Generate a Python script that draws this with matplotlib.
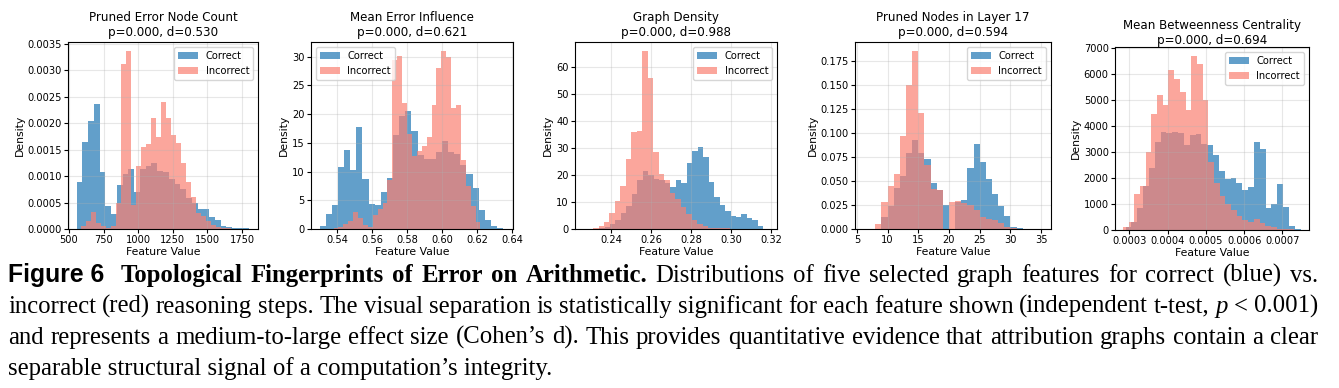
import numpy as np
import matplotlib.pyplot as plt
from matplotlib.ticker import MultipleLocator

W, H = 1339, 388

titles = ['Pruned Error Node Count', 'Mean Error Influence', 'Graph Density',
          'Pruned Nodes in Layer 17', 'Mean Betweenness Centrality']
p_vals = [0.000, 0.000, 0.000, 0.000, 0.000]
d_vals = [0.530, 0.621, 0.988, 0.594, 0.694]

# histogram densities: (lo, hi) of the bins, then one value per bin
node_count_correct_range = (556, 1803)
node_count_correct = [0.00089, 0.00165, 0.00205, 0.00236, 0.00108, 0.00044, 0.00029, 0.00083,
                      0.00105, 0.00114, 0.00070, 0.00114, 0.00120, 0.00125, 0.00110, 0.00107,
                      0.00095, 0.00085, 0.00075, 0.00058, 0.00050, 0.00038, 0.00038, 0.00022,
                      0.00017, 0.00006, 0.00004, 0.00002, 0.00001, 0.00001]
node_count_incorrect_range = (590, 1670)
node_count_incorrect = [0.00005, 0.00015, 0.00033, 0.00012, 0.00005, 0.00002, 0.00005, 0.00050,
                        0.00313, 0.00337, 0.00045, 0.00120, 0.00156, 0.00160, 0.00210, 0.00175,
                        0.00240, 0.00210, 0.00178, 0.00163, 0.00125, 0.00088, 0.00060, 0.00030,
                        0.00025, 0.00015, 0.00008, 0.00004, 0.00002, 0.00001]

influence_correct_range = (0.530, 0.635)
influence_correct = [0.46, 2.6, 4.2, 10.8, 13.8, 10.2, 17.7, 8.7, 4.4, 4.2, 6.5, 8.8, 16.4, 19.6, 20.5,
                     17.0, 12.8, 12.1, 12.2, 13.4, 15.4, 13.4, 13.0, 11.1, 9.5, 7.1, 3.3, 1.5, 0.6, 0.1]
influence_incorrect_range = (0.538, 0.622)
influence_incorrect = [0.2, 0.3, 0.8, 1.4, 2.9, 2.0, 0.7, 0.4, 2.5, 3.5, 4.5, 8.5, 29.5, 30.2, 22.0,
                       16.5, 12.7, 13.5, 14.5, 16.0, 21.5, 28.0, 31.0, 30.0, 21.0, 21.5, 12.0, 7.5, 4.0, 1.2]

density_correct_range = (0.234, 0.316)
density_correct = [0.3, 0.8, 2.0, 3.3, 6.0, 8.5, 13.0, 18.0, 21.5, 20.0, 18.5, 18.0, 17.0, 15.5, 18.0,
                   17.0, 24.5, 29.0, 30.5, 26.5, 17.5, 12.0, 9.0, 6.5, 5.0, 4.5, 5.5, 4.0, 3.3, 1.0]
density_incorrect_range = (0.231, 0.313)
density_incorrect = [0.3, 1.2, 2.5, 6.0, 10.5, 16.0, 26.0, 36.0, 36.5, 66.0, 56.0, 28.5, 20.5, 18.3, 13.5,
                     11.0, 8.0, 5.5, 3.5, 2.0, 1.0, 0.5, 0.3, 0.2, 0.2, 0.1, 0.1, 0.05, 0.05, 0.05]

layer17_correct_range = (9, 33)
layer17_correct = [0.012, 0.024, 0.043, 0.055, 0.079, 0.092, 0.079, 0.073, 0.048, 0.040, 0.025, 0.0,
                   0.028, 0.030, 0.063, 0.088, 0.070, 0.052, 0.036, 0.024, 0.013, 0.002, 0.001, 0.0005]
layer17_incorrect_range = (8, 33)
layer17_incorrect = [0.005, 0.028, 0.045, 0.057, 0.097, 0.150, 0.185, 0.120, 0.066, 0.042, 0.040, 0.0,
                     0.028, 0.029, 0.027, 0.025, 0.020, 0.012, 0.010, 0.009, 0.006, 0.002, 0.001,
                     0.0005, 0.0003]

betweenness_correct_range = (0.000290, 0.000748)
betweenness_correct = [100, 300, 850, 1700, 2400, 3400, 3750, 3720, 3750, 3720, 3250, 3650, 3700, 3300,
                       3250, 2900, 2250, 1950, 2000, 1800, 1550, 1650, 3400, 3100, 850, 1000, 1750,
                       900, 150, 50]
betweenness_incorrect_range = (0.000283, 0.000730)
betweenness_incorrect = [100, 300, 1400, 1700, 3000, 4450, 5200, 4800, 6150, 5800, 5300, 4600, 6700, 6400,
                         5000, 2600, 1800, 1300, 1000, 750, 550, 380, 300, 420, 280, 150, 100, 50, 30, 20]

panels = [
    (node_count_correct_range, node_count_correct, node_count_incorrect_range, node_count_incorrect),
    (influence_correct_range, influence_correct, influence_incorrect_range, influence_incorrect),
    (density_correct_range, density_correct, density_incorrect_range, density_incorrect),
    (layer17_correct_range, layer17_correct, layer17_incorrect_range, layer17_incorrect),
    (betweenness_correct_range, betweenness_correct, betweenness_incorrect_range, betweenness_incorrect),
]

# axes boxes in pixels (left, top, right, bottom) and x limits
boxes = [(68, 42, 258, 229), (311, 42, 513, 229), (575, 42, 777, 229),
         (855, 42, 1051, 229), (1115, 47, 1309, 230)]
xlims = [(493, 1866), (0.5251, 0.6406), (0.222, 0.3228), (4.7, 36.6), (0.0002625, 0.0007698)]
legend_locs = ['upper right', 'upper left', 'upper right', 'upper right', 'upper right']
title_pads = [4, 4, 4, 4, 2]

fig = plt.figure(figsize=(W / 100, H / 100), dpi=100)

for i, (cr, cv, ir, iv) in enumerate(panels):
    l, t, r, b = boxes[i]
    ax = fig.add_axes([l / W, 1 - b / H, (r - l) / W, (b - t) / H])
    c_edges = np.linspace(cr[0], cr[1], len(cv) + 1)
    i_edges = np.linspace(ir[0], ir[1], len(iv) + 1)
    ax.hist(c_edges[:-1], bins=c_edges, weights=cv, color='#1f77b4', alpha=0.7, label='Correct')
    ax.hist(i_edges[:-1], bins=i_edges, weights=iv, color='salmon', alpha=0.7, label='Incorrect')
    ax.set_xlim(*xlims[i])
    if i == 3:
        ax.xaxis.set_major_locator(MultipleLocator(5))
    ax.set_title(f'{titles[i]}\np={p_vals[i]:.3f}, d={d_vals[i]:.3f}', fontsize=8.6, pad=title_pads[i])
    ax.set_xlabel('Feature Value', fontsize=7.8, labelpad=1)
    ax.set_ylabel('Density', fontsize=7.8, labelpad=2)
    ax.tick_params(labelsize=7.1, length=3, pad=1.5)
    ax.grid(alpha=0.3)
    ax.legend(loc=legend_locs[i], fontsize=7.1)

# caption, justified line by line
serif = 'Liberation Serif'
r = fig.canvas.get_renderer()
line2_text = ('incorrect (red) reasoning steps. The visual separation is statistically significant '
              'for each feature shown (independent t-test, p < 0.001)')
line4_text = 'separable structural signal of a computation\u2019s integrity.'
probe = fig.text(0, 0, line2_text, family=serif, fontsize=10)
fs2 = 10 * 1300 / probe.get_window_extent(r).width
probe.remove()
probe = fig.text(0, 0, line4_text, family=serif, fontsize=10)
fs4 = 10 * 550 / probe.get_window_extent(r).width
probe.remove()
cap_fs = 0.5 * (fs2 + fs4)

reg = dict(family=serif, fontsize=cap_fs)
bold = dict(family=serif, fontsize=cap_fs, weight='bold')
sans = dict(family='Liberation Sans', fontsize=cap_fs, weight='bold')
ital = dict(family=serif, fontsize=cap_fs, style='italic')


def put_line(tokens, y_px, x0=8, x1=1318):
    texts = [fig.text(0, 1 - y_px / H, s, va='baseline', ha='left', **kw) for s, kw, _ in tokens]
    widths = [tx.get_window_extent(r).width for tx in texts]
    extra = sum(e for _, _, e in tokens)
    gap = (x1 - x0 - sum(widths)) / (len(texts) - 1 + extra)
    x = x0
    for tx, w, (_, _, e) in zip(texts, widths, tokens):
        tx.set_x(x / W)
        x += w + gap * (1 + e)


def words(s, kw):
    return [(w, kw, 0) for w in s.split()]


line1 = [('Figure 6', sans, 1)] + words('Topological Fingerprints of Error on Arithmetic.', bold) + \
    words('Distributions of five selected graph features for correct (blue) vs.', reg)
line2 = words('incorrect (red) reasoning steps. The visual separation is statistically significant '
              'for each feature shown (independent t-test,', reg) + \
    [('p', ital, 0), ('<', reg, 0), ('0.001)', reg, 0)]
line3 = words('and represents a medium-to-large effect size (Cohen\u2019s d). This provides quantitative '
              'evidence that attribution graphs contain a clear', reg)

put_line(line1, 282)
put_line(line2, 313)
put_line(line3, 344)
fig.text(8 / W, 1 - 375 / H, line4_text, va='baseline', ha='left', **reg)

fig.savefig('out.png', dpi=100)
